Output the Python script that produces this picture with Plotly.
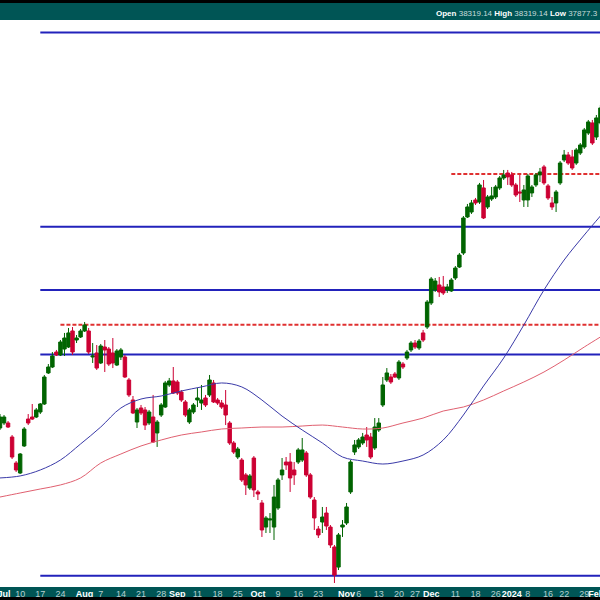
import pandas as pd
import plotly.graph_objects as go

# ---------------- data ----------------
holidays = ["2023-07-04", "2023-09-04", "2023-11-23", "2023-12-25", "2024-01-01", "2024-01-15"]
dates = [d.strftime("%Y-%m-%d") for d in pd.bdate_range("2023-06-30", "2024-02-02")
         if d.strftime("%Y-%m-%d") not in holidays]

opens = [34267, 34333, 34333, 34149, 33810, 33681, 34032, 34385, 34412, 34412,
         34478, 34584, 34998, 35078, 35280, 35240, 35321, 35348, 35566, 35443,
         35484, 35566, 35566, 35213, 35267, 35132, 35348, 35321, 35267, 35105,
         35213, 35213, 34904, 34637, 34346, 34531, 34505, 34333, 34412, 34202,
         34438, 34544, 34837, 34891, 34877, 34744, 34611, 34346, 34478, 34637,
         34597, 34664, 34704, 34864, 34637, 34597, 34571, 34333, 34071, 33888,
         33849, 33656, 33488, 33875, 33437, 33296, 32990, 33079, 32990, 33232,
         33656, 33823, 33823, 33720, 33823, 33849, 33940, 33656, 33334, 32965,
         33054, 33168, 32990, 32739, 32488, 32990, 33041, 33437, 33953, 34019,
         34071, 34175, 34149, 34006, 34241, 34571, 34904, 34944, 34984, 34931,
         35118, 35199, 35308, 35402, 35335, 35539, 35620, 35950, 36130, 36199,
         36171, 36130, 36116, 36296, 36449, 36645, 37155, 37226, 37398, 37369,
         37571, 37298, 37412, 37441, 37571, 37715, 37787, 37759, 37614, 37513,
         37398, 37398, 37499, 37614, 37759, 37875, 37600, 37355, 37355, 37643,
         37976, 38049, 38020, 37932, 38078, 38166, 38371, 38519, 38312, 38519]
highs = [34451, 34438, 34359, 34175, 33836, 33940, 34280, 34451, 34584, 34531,
         34597, 34971, 35118, 35280, 35308, 35443, 35539, 35607, 35620, 35511,
         35593, 35689, 35607, 35402, 35375, 35389, 35443, 35348, 35470, 35321,
         35335, 35240, 34931, 34690, 34531, 34571, 34544, 34505, 34704, 34372,
         34597, 34891, 34931, 35078, 34904, 34770, 34637, 34531, 34597, 34797,
         34837, 34704, 34971, 34904, 34664, 34637, 34770, 34359, 34097, 34019,
         33875, 33681, 33668, 33901, 33463, 33334, 33130, 33168, 33527, 33617,
         33875, 33888, 33940, 33823, 34006, 34136, 33966, 33681, 33372, 33003,
         33245, 33245, 33016, 32764, 32915, 33079, 33296, 33849, 34110, 34136,
         34202, 34280, 34202, 34398, 34398, 34944, 35064, 34984, 35011, 35172,
         35145, 35308, 35429, 35443, 35457, 35580, 35991, 36310, 36296, 36310,
         36324, 36213, 36296, 36463, 36645, 37169, 37341, 37398, 37427, 37643,
         37686, 37470, 37585, 37614, 37744, 37831, 37831, 37802, 37643, 37759,
         37614, 37773, 37614, 37787, 37860, 37904, 37628, 37441, 37542, 37961,
         38122, 38093, 38122, 38151, 38224, 38445, 38563, 38563, 38637, 38785]
lows = [34241, 34306, 34267, 33862, 33694, 33668, 34019, 34306, 34372, 34398,
        34451, 34571, 34984, 35064, 35226, 35226, 35226, 35335, 35240, 35402,
        35470, 35552, 35253, 35132, 35038, 35118, 35011, 35091, 35064, 35091,
        35172, 34931, 34677, 34451, 34267, 34438, 34241, 34306, 34071, 34019,
        34412, 34531, 34811, 34717, 34704, 34611, 34412, 34320, 34451, 34544,
        34505, 34544, 34677, 34597, 34571, 34518, 34306, 34045, 33927, 33862,
        33565, 33398, 33463, 33372, 33334, 32865, 32915, 32915, 32827, 33207,
        33591, 33720, 33437, 33527, 33797, 33823, 33630, 33347, 32953, 32852,
        32915, 32953, 32727, 32290, 32451, 32865, 33016, 33411, 33914, 33992,
        34045, 34019, 33862, 33980, 34215, 34544, 34877, 34851, 34931, 34904,
        35051, 35172, 35280, 35321, 35308, 35416, 35593, 35922, 36102, 36033,
        36060, 36088, 36102, 36268, 36435, 36617, 37141, 37198, 37326, 37341,
        37126, 37269, 37384, 37412, 37542, 37686, 37614, 37585, 37441, 37369,
        37298, 37298, 37441, 37585, 37657, 37614, 37398, 37255, 37226, 37614,
        37947, 37904, 37831, 37904, 38049, 38137, 38342, 38195, 38268, 38489]
closes = [34412, 34412, 34280, 33888, 33720, 33927, 34254, 34333, 34385, 34505,
          34584, 34944, 35078, 35226, 35240, 35416, 35470, 35539, 35280, 35470,
          35566, 35648, 35280, 35226, 35064, 35362, 35308, 35118, 35132, 35294,
          35308, 34944, 34704, 34465, 34505, 34465, 34306, 34478, 34084, 34346,
          34571, 34864, 34891, 34730, 34730, 34637, 34438, 34505, 34571, 34664,
          34637, 34571, 34904, 34611, 34597, 34544, 34438, 34071, 33953, 33992,
          33591, 33527, 33643, 33463, 33411, 32953, 33105, 33092, 33372, 33591,
          33720, 33785, 33617, 33656, 33980, 33980, 33656, 33372, 33105, 32890,
          33117, 33003, 32764, 32389, 32890, 33016, 33245, 33823, 34045, 34110,
          34149, 34110, 33888, 34280, 34333, 34837, 34998, 34877, 34944, 35145,
          35078, 35280, 35402, 35348, 35429, 35443, 35963, 36282, 36254, 36102,
          36088, 36171, 36268, 36435, 36617, 37141, 37298, 37355, 37355, 37614,
          37141, 37441, 37456, 37585, 37715, 37759, 37730, 37614, 37470, 37499,
          37542, 37744, 37585, 37759, 37802, 37643, 37427, 37298, 37513, 37932,
          38049, 37932, 37860, 38122, 38195, 38416, 38534, 38224, 38593, 38741]

# moving averages sampled every 5 sessions (plus last session)
ma_dates = dates[0::5] + [dates[-1]]
ma_fast = [33617, 33643, 33720, 33849, 34058, 34280, 34531, 34650, 34690, 34757,
           34811, 34864, 34811, 34637, 34424, 34241, 34071, 33888, 33836, 33797,
           33836, 33914, 34110, 34438, 34824, 35199, 35648, 36130, 36547, 36899, 37169]
ma_slow = [33372, 33424, 33475, 33527, 33617, 33810, 33927, 34032, 34110, 34175,
           34215, 34254, 34267, 34280, 34280, 34293, 34306, 34280, 34254, 34267,
           34333, 34398, 34491, 34544, 34637, 34757, 34877, 35011, 35172, 35348, 35484]

# fibonacci levels
fib_low, fib_high = 32380, 39880
fib_ratios = [0, 0.382, 0.5, 0.618, 1.0]
fib_start = "2023-07-17"

# resistance (dotted) lines
res_levels = [35650, 37773]
res_starts = ["2023-07-24", "2023-12-08"]

tick_dates = ["2023-07-03", "2023-07-10", "2023-07-17", "2023-07-24", "2023-08-01", "2023-08-07",
              "2023-08-14", "2023-08-21", "2023-08-28", "2023-09-01", "2023-09-11", "2023-09-18",
              "2023-09-25", "2023-10-02", "2023-10-09", "2023-10-16", "2023-10-23", "2023-11-01",
              "2023-11-06", "2023-11-13", "2023-11-20", "2023-11-27", "2023-12-01", "2023-12-11",
              "2023-12-18", "2023-12-26", "2024-01-02", "2024-01-08", "2024-01-16", "2024-01-22",
              "2024-01-29", "2024-02-01"]
tick_labels = ["Jul", "10", "17", "24", "Aug", "7", "14", "21", "28", "Sep", "11", "18", "25",
               "Oct", "9", "16", "23", "Nov", "6", "13", "20", "27", "Dec", "11", "18", "26",
               "2024", "8", "16", "22", "29", "Feb"]

header = [("Open", "38319.14"), ("High", "38319.14"), ("Low", "37877.3")]

# ---------------- figure ----------------
W, H = 600, 600
TOP, BOT = 20, 13
plot_h = H - TOP - BOT
BAR = "#005555"
GREEN = "#006400"
RED = "#cc0033"

fig = go.Figure()

fig.add_trace(go.Candlestick(
    x=dates, open=opens, high=highs, low=lows, close=closes,
    increasing=dict(line=dict(color=GREEN, width=1), fillcolor=GREEN),
    decreasing=dict(line=dict(color=RED, width=1), fillcolor=RED),
    whiskerwidth=0, showlegend=False, hoverinfo="skip"))

fig.add_trace(go.Scatter(x=ma_dates, y=ma_slow, mode="lines", line=dict(color="#e06070", width=1, shape="spline"),
                         showlegend=False, hoverinfo="skip"))
fig.add_trace(go.Scatter(x=ma_dates, y=ma_fast, mode="lines", line=dict(color="#3a3aa8", width=1, shape="spline"),
                         showlegend=False, hoverinfo="skip"))

n = len(dates)
shapes = []
fs = dates.index(fib_start)
for r in fib_ratios:
    lvl = fib_low + r * (fib_high - fib_low)
    shapes.append(dict(type="line", xref="x", yref="y", x0=fs, x1=n + 5, y0=lvl, y1=lvl,
                       line=dict(color="#2222bb", width=2), layer="below"))
for lvl, st in zip(res_levels, res_starts):
    shapes.append(dict(type="line", xref="x", yref="y", x0=dates.index(st), x1=n + 5, y0=lvl, y1=lvl,
                       line=dict(color="#e03030", width=2, dash="4px,2px"), layer="below"))
# black edge strips
shapes.append(dict(type="rect", xref="paper", yref="paper", x0=0, x1=1,
                   y0=1 + (TOP - 3) / plot_h, y1=1 + TOP / plot_h, fillcolor="black", line=dict(width=0)))
shapes.append(dict(type="rect", xref="paper", yref="paper", x0=0, x1=1,
                   y0=-BOT / plot_h, y1=-(BOT - 3) / plot_h, fillcolor="black", line=dict(width=0)))

ticktext = []
for t in tick_labels:
    if not t.isdigit() or len(t) == 4:
        ticktext.append("<b>%s</b>" % t)
    else:
        ticktext.append('<span style="color:#b8d0d0">%s</span>' % t)

head = " ".join('<b>%s</b> <span style="color:#c8dcdc">%s</span>' % (k, v) for k, v in header)

fig.update_layout(
    width=W, height=H,
    margin=dict(l=0, r=0, t=TOP, b=BOT, pad=0, autoexpand=False),
    paper_bgcolor=BAR, plot_bgcolor="white",
    boxgap=0.15, boxgroupgap=0,
    shapes=shapes,
    xaxis=dict(type="category", range=[0, 148.9], rangeslider=dict(visible=False), automargin=False,
               tickmode="array", tickvals=tick_dates, ticktext=ticktext, tickangle=0,
               ticks="", showgrid=False, zeroline=False, showline=False,
               tickfont=dict(family="Liberation Sans, Arial", size=9, color="white")),
    yaxis=dict(type="log", range=[4.50840, 4.60282], visible=False, showgrid=False, zeroline=False,
               automargin=False),
    annotations=[dict(text=head, xref="paper", yref="paper", x=1.0, y=1 + (TOP - 14) / plot_h,
                      xanchor="right", yanchor="middle", showarrow=False,
                      font=dict(family="Liberation Sans, Arial", size=8, color="white"))],
)

fig.write_html("out.html", config={"displayModeBar": False},
               post_script="document.body.style.margin='0';document.body.style.overflow='hidden';")
